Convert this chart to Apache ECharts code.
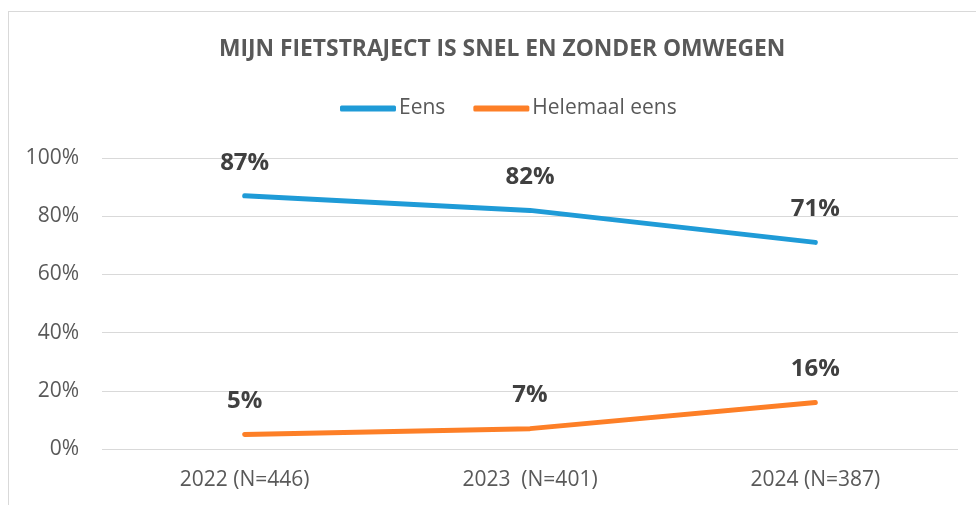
<!DOCTYPE html>
<html>
<head>
<meta charset="utf-8">
<script src="https://cdn.jsdelivr.net/npm/echarts@6/dist/echarts.min.js"></script>
<style>
    html, body { margin: 0; padding: 0; background: #fff; }
    #frame { position: absolute; left: 8px; top: 11px; width: 1000px; height: 600px; border: 1px solid #d9d9d9; }
    #chart { position: absolute; left: 0; top: 0; width: 976px; height: 505px; }
</style>
</head>
<body>
<div id="frame"></div>
<div id="chart"></div>
<script>
// data
const categories = ['2022 (N=446)', '2023  (N=401)', '2024 (N=387)'];
const eens = [87, 82, 71];
const helemaalEens = [5, 7, 16];
const yTicks = [0, 20, 40, 60, 80, 100];

const FONT = '"Open Sans", sans-serif';

const chart = echarts.init(document.getElementById('chart'));

const labelStyle = {
    show: true,
    position: 'top',
    distance: 21,
    formatter: '{c}%',
    fontFamily: FONT,
    fontSize: 24,
    fontWeight: 'bold',
    color: '#404040'
};

const option = {
    animation: false,
    title: {
        text: 'MIJN FIETSTRAJECT IS SNEL EN ZONDER OMWEGEN',
        left: 214,
        top: 33,
        textStyle: { fontFamily: FONT, fontSize: 22.8, fontWeight: 'bold', color: '#595959' }
    },
    legend: {
        top: 93,
        left: 335,
        icon: 'roundRect',
        itemWidth: 56,
        itemHeight: 6,
        itemGap: 28,
        textStyle: { fontFamily: FONT, fontSize: 21, color: '#595959', padding: [0, 0, 0, -2] },
        data: ['Eens', 'Helemaal eens']
    },
    grid: { left: 102, right: 18, top: 158, bottom: 56 },
    xAxis: {
        type: 'category',
        data: categories,
        axisLine: { show: false },
        axisTick: { show: false },
        axisLabel: { fontFamily: FONT, fontSize: 21, color: '#595959', margin: 21 }
    },
    yAxis: {
        type: 'value',
        min: yTicks[0],
        max: yTicks[yTicks.length - 1],
        interval: 20,
        axisLine: { show: false },
        axisTick: { show: false },
        axisLabel: { fontFamily: FONT, fontSize: 21, color: '#595959', margin: 23, formatter: '{value}%' },
        splitLine: { lineStyle: { color: '#d9d9d9', width: 1 } }
    },
    series: [
        {
            name: 'Eens',
            type: 'line',
            data: eens,
            symbol: 'circle',
            symbolSize: 0,
            lineStyle: { color: '#1f9bd7', width: 5, cap: 'round' },
            itemStyle: { color: '#1f9bd7' },
            label: labelStyle
        },
        {
            name: 'Helemaal eens',
            type: 'line',
            data: helemaalEens,
            symbol: 'circle',
            symbolSize: 0,
            lineStyle: { color: '#fd7f27', width: 5, cap: 'round' },
            itemStyle: { color: '#fd7f27' },
            label: labelStyle
        }
    ]
};

chart.setOption(option);
</script>
</body>
</html>
